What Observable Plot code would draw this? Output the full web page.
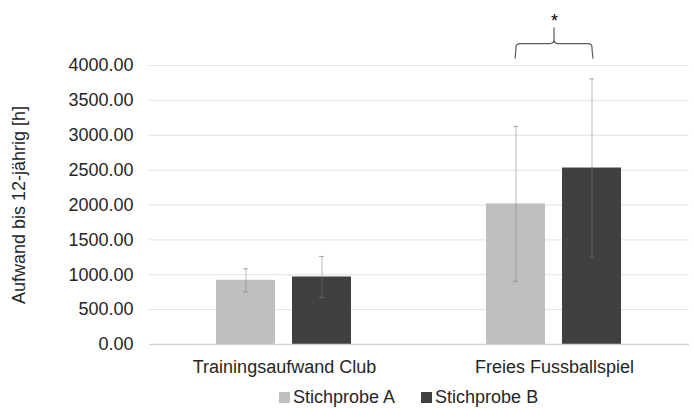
<!DOCTYPE html>
<html>
<head>
<meta charset="utf-8">
<script src="https://cdn.jsdelivr.net/npm/d3@7"></script>
<script src="https://cdn.jsdelivr.net/npm/@observablehq/plot@0.6"></script>
<style>
  body { margin: 0; background: #fff; font-family: Arial, "Liberation Sans", sans-serif; }
  #wrap { position: relative; width: 694px; height: 408px; overflow: hidden; background: #fff; }
  #legend { position: absolute; left: 279px; top: 388px; display: flex; gap: 26px; font-size: 18px; line-height: 18px; color: #262626; white-space: nowrap; }
  #legend .item { display: flex; align-items: flex-start; }
  #legend .sw { display: inline-block; width: 11px; height: 11px; margin-top: 4px; margin-right: 3px; }
</style>
</head>
<body>
<div id="wrap">
  <div id="chart"></div>
  <div id="legend"></div>
</div>
<script>
// ---- data ----
const categories = ["Trainingsaufwand Club", "Freies Fussballspiel"];
const series = ["Stichprobe A", "Stichprobe B"];
const meanA = [920, 2016];
const meanB = [968, 2530];
const sdA = [165, 1109];
const sdB = [294, 1279];
const yTicks = [0, 500, 1000, 1500, 2000, 2500, 3000, 3500, 4000];
const colors = ["#bfbfbf", "#404040"];
const yLabel = "Aufwand bis 12-jährig [h]";
// significance annotation (values in data units)
const annotation = [{category: "Freies Fussballspiel", label: "*", starY: 4640, braceBottom: 4100, braceMid: 4315, braceTop: 4545}];

const rows = categories.flatMap((c, i) => [
  {category: c, series: series[0], mean: meanA[i], sd: sdA[i]},
  {category: c, series: series[1], mean: meanB[i], sd: sdB[i]}
]);

const font = 'Arial, "Liberation Sans", sans-serif';

const chart = Plot.plot({
  width: 694,
  height: 385,
  marginLeft: 149,
  marginRight: 5,
  marginTop: 65,
  marginBottom: 41,
  style: {fontFamily: font, fontSize: "18px", color: "#262626", background: "white", overflow: "visible"},
  fx: {domain: categories, paddingInner: 0, paddingOuter: 0, label: null, tickSize: 0, tickPadding: 16, axis: "bottom"},
  x: {domain: series, paddingInner: 0.22, paddingOuter: 0.87, axis: null},
  y: {domain: [0, 4000], ticks: yTicks, tickFormat: d => d.toFixed(2), tickSize: 0, tickPadding: 16,
      label: yLabel, labelAnchor: "center", labelOffset: 137, labelArrow: "none"},
  color: {domain: series, range: colors},
  marks: [
    Plot.gridY(yTicks, {stroke: "#e2e2e2", strokeOpacity: 1}),
    Plot.barY(rows, {fx: "category", x: "series", y: "mean", fill: "series"}),
    Plot.ruleY([0], {stroke: "#d4d4d4", strokeWidth: 1.5}),
    Plot.ruleX(rows, {fx: "category", x: "series", y1: d => d.mean - d.sd, y2: d => d.mean + d.sd, stroke: "#7a7a7a", strokeOpacity: 0.5}),
    Plot.tickY(rows, {fx: "category", x: "series", y: d => d.mean - d.sd, insetLeft: 27, insetRight: 27, stroke: "#7a7a7a", strokeOpacity: 0.6}),
    Plot.tickY(rows, {fx: "category", x: "series", y: d => d.mean + d.sd, insetLeft: 27, insetRight: 27, stroke: "#7a7a7a", strokeOpacity: 0.6}),
    Plot.text(annotation, {
      fx: "category", y: "starY", text: "label", fill: "#000", fontSize: 18,
      render(index, scales, values, dimensions, context, next) {
        const g = next(index, scales, values, dimensions, context);
        if (!index.length) return g;
        const a = annotation[index[0]];
        const {x, y} = scales;
        const hb = x.bandwidth ? x.bandwidth() / 2 : 0;
        const x1 = x(series[0]) + hb, x2 = x(series[1]) + hb, xm = (x1 + x2) / 2;
        const yb = y(a.braceBottom), yh = y(a.braceMid), yt = y(a.braceTop);
        const r = 4;
        const d = `M${x1 - 1},${yb}Q${x1},${yh + r + 3} ${x1},${yh + r}Q${x1},${yh} ${x1 + r},${yh}H${xm - r}Q${xm},${yh} ${xm},${yh - r}V${yt}` +
                  `M${xm},${yh - r}Q${xm},${yh} ${xm + r},${yh}H${x2 - r}Q${x2},${yh} ${x2},${yh + r}Q${x2},${yh + r + 3} ${x2 + 1},${yb}`;
        d3.select(g).append("path").attr("d", d).attr("fill", "none").attr("stroke", "#595959").attr("stroke-width", 1.2);
        return g;
      }
    })
  ]
});
document.getElementById("chart").appendChild(chart);

// legend
const legend = document.getElementById("legend");
series.forEach((s, i) => {
  const item = document.createElement("div");
  item.className = "item";
  const sw = document.createElement("span");
  sw.className = "sw";
  sw.style.background = colors[i];
  const t = document.createElement("span");
  t.textContent = s;
  item.appendChild(sw);
  item.appendChild(t);
  legend.appendChild(item);
});
</script>
</body>
</html>
